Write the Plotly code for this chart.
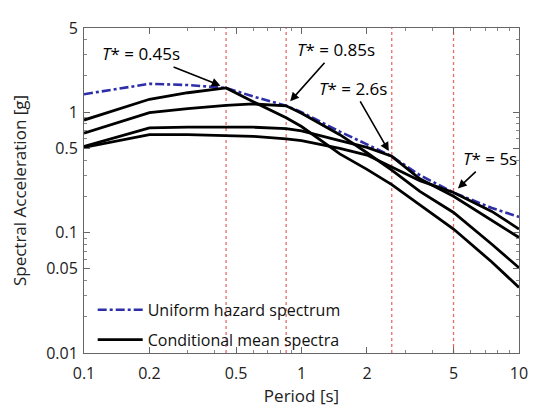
import numpy as np
import plotly.graph_objects as go

# ---- data ----
periods = [0.1, 0.2, 0.3, 0.45, 0.6, 0.85, 1.0, 1.5, 2.0, 2.6, 3.5, 5.0, 7.5, 10.0]
uhs = [1.41, 1.72, 1.68, 1.59, 1.35, 1.13, 1.0, 0.69, 0.54, 0.43, 0.30, 0.215, 0.16, 0.135]
cms_045 = [0.86, 1.28, 1.45, 1.59, 1.22, 0.90, 0.76, 0.45, 0.335, 0.25, 0.17, 0.107, 0.057, 0.035]
cms_085 = [0.67, 0.99, 1.07, 1.14, 1.17, 1.13, 0.98, 0.65, 0.46, 0.33, 0.22, 0.147, 0.08, 0.051]
cms_26 = [0.52, 0.74, 0.75, 0.75, 0.75, 0.73, 0.70, 0.58, 0.51, 0.43, 0.28, 0.20, 0.125, 0.091]
cms_5 = [0.51, 0.65, 0.65, 0.64, 0.63, 0.60, 0.58, 0.50, 0.44, 0.35, 0.27, 0.215, 0.15, 0.107]
cms_series = [cms_045, cms_085, cms_26, cms_5]

cond_periods = [0.45, 0.85, 2.6, 5.0]
cond_labels = ["0.45s", "0.85s", "2.6s", "5s"]
label_offsets = [(-85, -34), (50, -56), (-39, -68), (36, -34)]  # pixel offsets of labels

x_tickvals = [0.1, 0.2, 0.5, 1, 2, 5, 10]
x_ticktext = ["0.1", "0.2", "0.5", "1", "2", "5", "10"]
y_tickvals = [0.01, 0.05, 0.1, 0.5, 1, 5]
y_ticktext = ["0.01", "0.05", "0.1", "0.5", "1", "5"]

FONT = "Open Sans"

fig = go.Figure()

fig.add_trace(go.Scatter(
    x=periods, y=uhs, mode="lines", name="Uniform hazard spectrum",
    line=dict(color="#2E2EA8", width=2.6, dash="dashdot"),
    legendgroup="uhs",
))
for i, s in enumerate(cms_series):
    fig.add_trace(go.Scatter(
        x=periods, y=s, mode="lines", name="Conditional mean spectra",
        line=dict(color="black", width=2.8),
        showlegend=(i == 0), legendgroup="cms",
    ))

for t in cond_periods:
    fig.add_shape(type="line", xref="x", yref="paper", x0=t, x1=t, y0=0, y1=1,
                  line=dict(color="#E86A6A", width=1.3, dash="dot"), layer="below")

for t, lab, (ox, oy) in zip(cond_periods, cond_labels, label_offsets):
    yv = uhs[periods.index(t)]
    fig.add_annotation(
        x=np.log10(t), y=np.log10(yv), xref="x", yref="y",
        text="<i>T</i>* = " + lab, showarrow=True,
        ax=ox, ay=oy, arrowhead=2, arrowsize=1.1, arrowwidth=1.6,
        arrowcolor="black", standoff=6,
        font=dict(family=FONT, size=17, color="black"),
    )

axis_common = dict(
    type="log", showgrid=False, zeroline=False, showline=True,
    linecolor="#666666", linewidth=1, mirror="ticks",
    ticks="inside", ticklen=6, tickcolor="#666666",
    tickfont=dict(family=FONT, size=16, color="#222222"),
    ticklabeloverflow="allow",
)

minor_x = [m * d for d in [0.1, 1] for m in range(2, 10)]
minor_y = [m * d for d in [0.01, 0.1, 1] for m in range(2, 10) if m * d <= 5]

fig.update_xaxes(
    **axis_common, range=[-1, 1],
    tickvals=x_tickvals, ticktext=x_ticktext,
    minor=dict(ticks="inside", ticklen=3, tickcolor="#888888", tickvals=minor_x),
    ticklabelstandoff=6,
    title=dict(text="Period [s]", font=dict(family=FONT, size=17, color="#222222"), standoff=2),
)
fig.update_yaxes(
    **axis_common, range=[-2, np.log10(5) + 1e-6],
    tickvals=y_tickvals, ticktext=y_ticktext,
    minor=dict(ticks="inside", ticklen=3, tickcolor="#888888", tickvals=minor_y),
    ticklabelstandoff=2,
    title=dict(text="Spectral Acceleration [g]", font=dict(family=FONT, size=17, color="#222222"), standoff=16),
)

fig.update_layout(
    width=529, height=400,
    margin=dict(l=76, r=10, t=9, b=55),
    paper_bgcolor="white", plot_bgcolor="white",
    showlegend=True,
    legend=dict(
        x=0.02, y=-0.012, xanchor="left", yanchor="bottom",
        bgcolor="rgba(0,0,0,0)", borderwidth=0,
        font=dict(family=FONT, size=16, color="#111111"),
        traceorder="grouped", tracegroupgap=6, itemwidth=45,
    ),
)

fig.write_html("out.html")
